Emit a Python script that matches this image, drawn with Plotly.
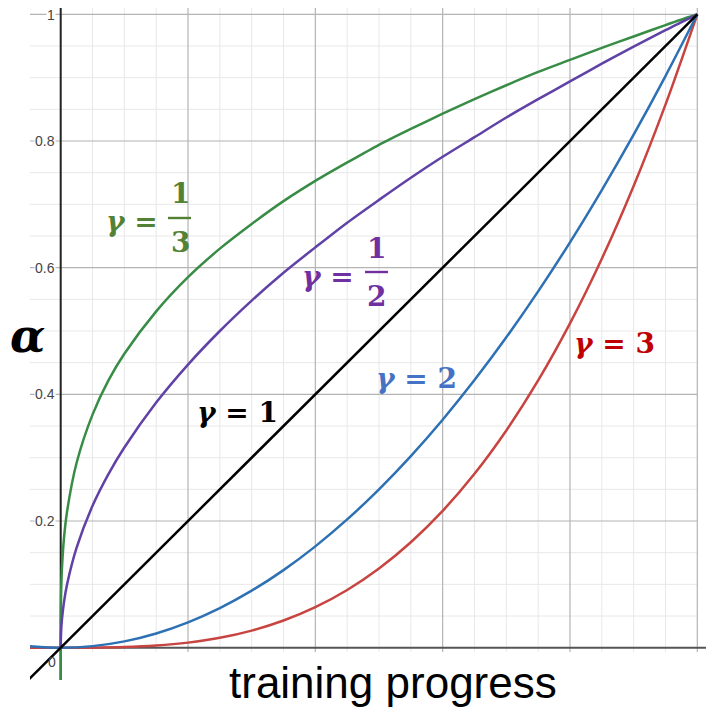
import plotly.graph_objects as go

# ── Data: alpha vs. training progress for each gamma ──

G3_X = [-0.0002, -0.0001, 0, 0.0001, 0.0005, 0.001, 0.002, 0.005, 0.01, 0.025,
        0.05, 0.075, 0.1, 0.15, 0.2, 0.25, 0.3, 0.35, 0.4, 0.45, 0.5, 0.55,
        0.6, 0.65, 0.7, 0.75, 0.8, 0.85, 0.9, 0.95, 1.0]
G3_Y = [-0.058, -0.046, 0, 0.046, 0.079, 0.100, 0.126, 0.171, 0.215, 0.292,
        0.368, 0.422, 0.464, 0.531, 0.585, 0.630, 0.669, 0.705, 0.737, 0.766,
        0.794, 0.819, 0.843, 0.866, 0.888, 0.909, 0.928, 0.947, 0.965, 0.983, 1.0]

G2_X = [0, 0.0005, 0.001, 0.002, 0.005, 0.01, 0.025, 0.05, 0.075, 0.1, 0.15,
        0.2, 0.25, 0.3, 0.35, 0.4, 0.45, 0.5, 0.55, 0.6, 0.65, 0.7, 0.75,
        0.8, 0.85, 0.9, 0.95, 1.0]
G2_Y = [0, 0.022, 0.032, 0.045, 0.071, 0.100, 0.158, 0.224, 0.274, 0.316, 0.387,
        0.447, 0.500, 0.548, 0.592, 0.632, 0.671, 0.707, 0.742, 0.775, 0.806,
        0.837, 0.866, 0.894, 0.922, 0.949, 0.975, 1.0]

LIN_X = [-0.06, 1.0]
LIN_Y = [-0.06, 1.0]

SQ_X = [-0.05, 0, 0.05, 0.1, 0.15, 0.2, 0.25, 0.3, 0.35, 0.4, 0.45, 0.5, 0.55,
        0.6, 0.65, 0.7, 0.75, 0.8, 0.85, 0.9, 0.95, 1.0]
SQ_Y = [0.0025, 0, 0.0025, 0.01, 0.0225, 0.04, 0.0625, 0.09, 0.1225, 0.16,
        0.2025, 0.25, 0.3025, 0.36, 0.4225, 0.49, 0.5625, 0.64, 0.7225, 0.81,
        0.9025, 1.0]

CU_X = [-0.05, 0, 0.05, 0.1, 0.15, 0.2, 0.25, 0.3, 0.35, 0.4, 0.45, 0.5, 0.55,
        0.6, 0.65, 0.7, 0.75, 0.8, 0.85, 0.9, 0.95, 1.0]
CU_Y = [-0.0001, 0, 0.0001, 0.001, 0.0034, 0.008, 0.0156, 0.027, 0.0429, 0.064,
        0.0911, 0.125, 0.1664, 0.216, 0.2746, 0.343, 0.4219, 0.512, 0.6141,
        0.729, 0.8574, 1.0]

GRID_MAJOR = [0.2, 0.4, 0.6, 0.8, 1.0]
GRID_MINOR = [0.05, 0.1, 0.15, 0.25, 0.3, 0.35, 0.45, 0.5, 0.55, 0.65, 0.7,
              0.75, 0.85, 0.9, 0.95]
Y_TICKS = [0.2, 0.4, 0.6, 0.8, 1.0]
Y_TICK_TEXT = ["0.2", "0.4", "0.6", "0.8", "1"]

# ── Colours ───────────────────────────────────────────────────────────────────
RED, BLUE, GREEN, PURPLE, BLACK = "#c74440", "#2d70b3", "#388c46", "#6042a6", "#000000"
L_GREEN, L_PURPLE, L_BLUE, L_RED = "#548235", "#7030a0", "#4472c4", "#c00000"
MAJ, MIN = "#b4b4b4", "#e8e8e8"

# the page body keeps its default 8px margin, so the figure is drawn 8px in
OFF = 8
PL, PR, PT, PB = 30, 713, OFF, 680   # plot area on screen


# screen pixel -> data helpers (origin at px (60.7, 647.7))
def dx(px):
    return (px - 60.7) / 636.6


def dy(py):
    return (647.7 - py) / 633.4


def paper_x(px):
    return (px - PL) / (PR - PL)


def paper_y(py):
    return (PB - py) / (PB - PT)


X0, X1 = dx(PL), dx(PR)
Y0, Y1 = dy(PB), dy(PT)

fig = go.Figure()

shapes = []
for v in GRID_MINOR:
    shapes.append(dict(type="line", x0=v, x1=v, y0=dy(652), y1=Y1,
                       line=dict(color=MIN, width=1), layer="below"))
    shapes.append(dict(type="line", x0=X0, x1=1.0, y0=v, y1=v,
                       line=dict(color=MIN, width=1), layer="below"))
for v in GRID_MAJOR:
    shapes.append(dict(type="line", x0=v, x1=v, y0=dy(652), y1=Y1,
                       line=dict(color=MAJ, width=1.2), layer="below"))
    shapes.append(dict(type="line", x0=X0, x1=1.0, y0=v, y1=v,
                       line=dict(color=MAJ, width=1.2), layer="below"))
# axes
shapes.append(dict(type="line", x0=X0, x1=X1, y0=0, y1=0,
                   line=dict(color="#555555", width=2), layer="below"))
shapes.append(dict(type="line", x0=0, x1=0, y0=Y0, y1=Y1,
                   line=dict(color="#222222", width=2), layer="below"))

series = [
    (CU_X, CU_Y, RED),
    (SQ_X, SQ_Y, BLUE),
    (G3_X, G3_Y, GREEN),
    (G2_X, G2_Y, PURPLE),
    (LIN_X, LIN_Y, BLACK),
]
for xs, ys, col in series:
    fig.add_trace(go.Scatter(x=xs, y=ys, mode="lines",
                             line=dict(color=col, width=2.5, shape="spline",
                                       smoothing=0.8),
                             hoverinfo="skip"))

ann = []
# y tick labels
for v, t in zip(Y_TICKS, Y_TICK_TEXT):
    ann.append(dict(x=dx(56), y=v, text=t, showarrow=False, xanchor="right",
                    yanchor="middle", bgcolor="white", borderpad=0,
                    yshift=-1 if v == 1.0 else 0,
                    font=dict(family="Liberation Sans, Arial", size=14,
                              color="#444444")))
ann.append(dict(x=dx(52), y=dy(662), text="0", showarrow=False,
                font=dict(family="Liberation Sans, Arial", size=14, color="#444444")))

LBL = "DejaVu Serif"


def label(px, py, text, color, size=28):
    ann.append(dict(x=dx(px), y=dy(py), text=text, showarrow=False,
                    xanchor="center", yanchor="middle",
                    font=dict(family=LBL, size=size, color=color)))


# single-line gamma labels
label(237, 412, "<b><i>γ</i> = 1</b>", BLACK)
label(416, 378, "<b><i>γ</i> = 2</b>", L_BLUE)
label(614, 343, "<b><i>γ</i> = 3</b>", L_RED)

# fraction labels
label(132, 221, "<b><i>γ</i> =</b>", L_GREEN)
label(180, 193, "<b>1</b>", L_GREEN)
label(180, 242, "<b>3</b>", L_GREEN)
shapes.append(dict(type="line", x0=dx(168), x1=dx(191), y0=dy(218), y1=dy(218),
                   line=dict(color=L_GREEN, width=2.4)))

label(328, 276, "<b><i>γ</i> =</b>", L_PURPLE)
label(376, 248, "<b>1</b>", L_PURPLE)
label(376, 296, "<b>2</b>", L_PURPLE)
shapes.append(dict(type="line", x0=dx(365), x1=dx(388), y0=dy(272), y1=dy(272),
                   line=dict(color=L_PURPLE, width=2.4)))

# axis titles (outside the plot area, so placed in paper coordinates)
ann.append(dict(xref="paper", yref="paper", x=paper_x(9), y=paper_y(336),
                xanchor="left", text="<b><i>α</i></b>", showarrow=False,
                borderpad=0,
                font=dict(family=LBL, size=46, color=BLACK)))
ann.append(dict(xref="paper", yref="paper", x=paper_x(393), y=paper_y(682),
                text="training progress", showarrow=False, yanchor="middle",
                font=dict(family="Liberation Sans, Arial", size=44, color=BLACK)))

fig.update_layout(
    width=714 - OFF, height=708 - OFF,
    margin=dict(l=PL - OFF, r=1, t=0, b=28, autoexpand=False),
    paper_bgcolor="white", plot_bgcolor="white",
    showlegend=False,
    xaxis=dict(range=[X0, X1], visible=False, fixedrange=True),
    yaxis=dict(range=[Y0, Y1], visible=False, fixedrange=True),
    shapes=shapes,
    annotations=ann,
)

fig.write_html("out.html")
